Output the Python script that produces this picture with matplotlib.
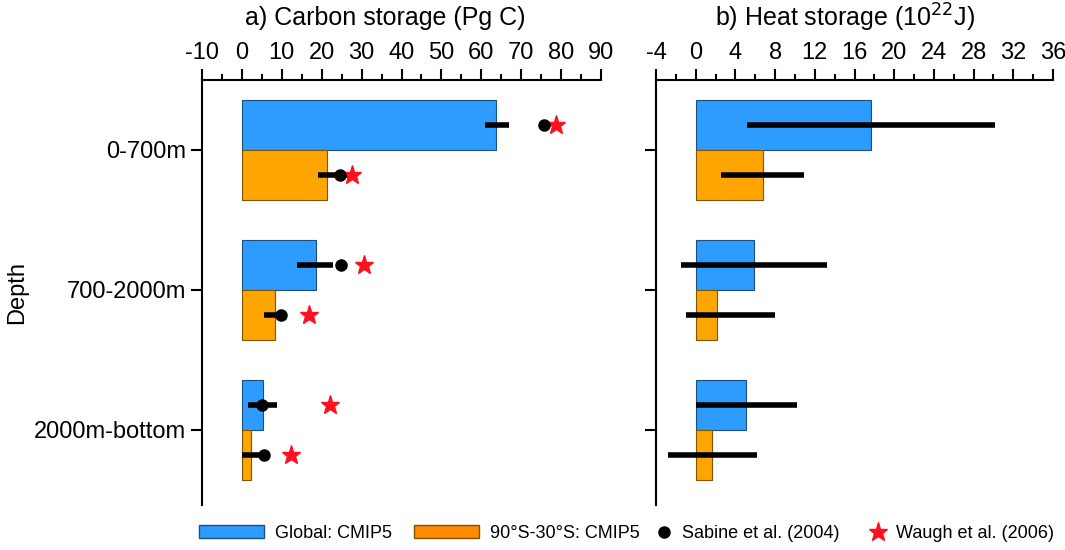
import numpy as np
import matplotlib.pyplot as plt
from matplotlib.patches import Patch
from matplotlib.lines import Line2D

plt.rcParams['font.family'] = ['Liberation Sans', 'DejaVu Sans']
plt.rcParams['axes.unicode_minus'] = False

depths = ['0-700m', '700-2000m', '2000m-bottom']

# carbon storage (Pg C)
c_glob = [63.7, 18.6, 5.3]
c_glob_lo = [61.0, 13.9, 1.5]
c_glob_hi = [67.0, 22.9, 8.8]
c_so = [21.4, 8.3, 2.3]
c_so_lo = [19.0, 5.5, 0.0]
c_so_hi = [26.5, 11.1, 6.0]
sabine_glob = [75.6, 24.9, 5.0]
sabine_so = [24.7, 9.8, 5.5]
waugh_glob = [78.8, 30.7, 22.2]
waugh_so = [27.5, 16.9, 12.3]

# heat storage (1e22 J)
h_glob = [17.7, 5.9, 5.1]
h_glob_lo = [5.2, -1.5, 0.0]
h_glob_hi = [30.2, 13.2, 10.2]
h_so = [6.8, 2.1, 1.6]
h_so_lo = [2.5, -1.0, -2.8]
h_so_hi = [10.9, 8.0, 6.2]

blue = '#2E9BFF'
orange = '#FFA500'
bh = 0.357
y = np.arange(3)

fig = plt.figure(figsize=(10.65, 5.5), dpi=100)
ax1 = fig.add_axes([202/1065, 1-505/550, 399/1065, 425/550])
ax2 = fig.add_axes([656/1065, 1-505/550, 397/1065, 425/550])

def panel(ax, g, glo, ghi, s, slo, shi):
    ax.barh(y - bh/2, g, height=bh, color=blue, edgecolor='#1a4f80', lw=0.8)
    ax.barh(y + bh/2, s, height=bh, color=orange, edgecolor='#805300', lw=0.8)
    for i in range(3):
        ax.plot([glo[i], ghi[i]], [y[i] - bh/2]*2, color='black', lw=4, solid_capstyle='butt')
        ax.plot([slo[i], shi[i]], [y[i] + bh/2]*2, color='black', lw=4, solid_capstyle='butt')
    ax.set_ylim(2.536, -0.5)
    ax.set_yticks(y)
    ax.xaxis.tick_top()
    ax.spines['right'].set_visible(False)
    ax.spines['bottom'].set_visible(False)
    for sp in ('left', 'top'):
        ax.spines[sp].set_linewidth(1.5)
    ax.tick_params(axis='both', width=1.5, length=8, labelsize=17)
    ax.tick_params(axis='x', which='minor', width=1.5, length=4, top=True)

panel(ax1, c_glob, c_glob_lo, c_glob_hi, c_so, c_so_lo, c_so_hi)
ax1.plot(sabine_glob, y - bh/2, 'o', color='black', ms=8, zorder=5)
ax1.plot(sabine_so, y + bh/2, 'o', color='black', ms=8, zorder=5)
ax1.plot(waugh_glob, y - bh/2, '*', color='#FF1020', ms=14, zorder=4)
ax1.plot(waugh_so, y + bh/2, '*', color='#FF1020', ms=14, zorder=4)
ax1.set_xlim(-10, 90)
ax1.set_xticks(np.arange(-10, 91, 10))
ax1.set_xticks(np.arange(-5, 90, 10), minor=True)
ax1.set_yticklabels(depths)
ax1.set_ylabel('Depth', fontsize=17)

panel(ax2, h_glob, h_glob_lo, h_glob_hi, h_so, h_so_lo, h_so_hi)
ax2.set_xlim(-4, 36)
ax2.set_xticks(np.arange(-4, 37, 4))
ax2.set_xticks(np.arange(-2, 36, 4), minor=True)
ax2.set_yticklabels([])

fig.text(385/1065, 1-18/550, 'a) Carbon storage (Pg C)', fontsize=18, ha='center', va='center')
fig.text(845/1065, 1-18/550, 'b) Heat storage (10$^{22}$J)', fontsize=18, ha='center', va='center')

patches = [Patch(facecolor=blue, edgecolor='#1a4f80'),
           Patch(facecolor='#FF8C00', edgecolor='#805300')]
fig.legend(patches, ['Global: CMIP5', '90°S-30°S: CMIP5'], loc='lower left', ncol=2,
           frameon=False, fontsize=13, bbox_to_anchor=(0.172, -0.015),
           handlelength=3.6, handletextpad=0.6, columnspacing=1.2)
marks = [Line2D([], [], marker='o', ls='', color='black', ms=8),
         Line2D([], [], marker='*', ls='', color='#FF1020', ms=14)]
fig.legend(marks, ['Sabine et al. (2004)', 'Waugh et al. (2006)'], loc='lower left', ncol=2,
           frameon=False, fontsize=13, bbox_to_anchor=(0.6, -0.015),
           handlelength=1.0, handletextpad=0.5, columnspacing=1.6)

fig.savefig('out.png')
